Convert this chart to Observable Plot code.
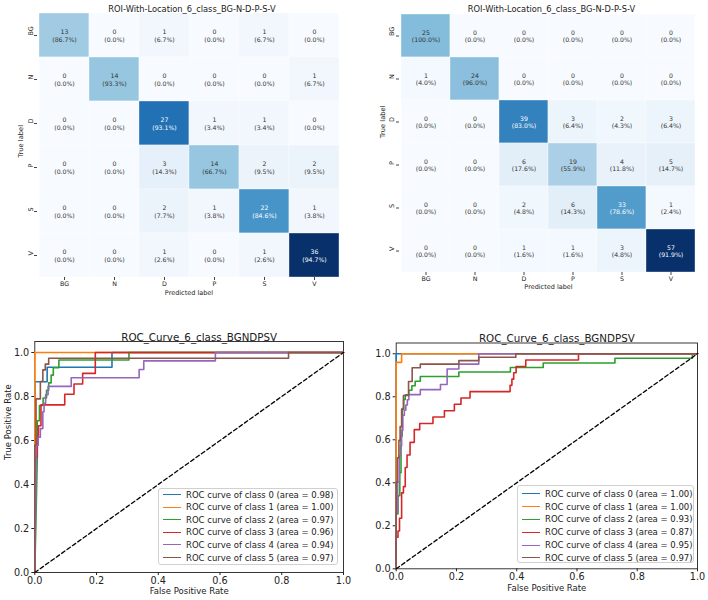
<!DOCTYPE html>
<html><head><meta charset="utf-8">
<script src="https://cdn.jsdelivr.net/npm/d3@7"></script>
<script src="https://cdn.jsdelivr.net/npm/@observablehq/plot@0.6"></script>
<style>
html,body{margin:0;padding:0;background:#fff;}
#root{position:relative;width:708px;height:600px;overflow:hidden;font-family:"DejaVu Sans",sans-serif;}
#root svg{position:absolute;}
.legend{position:absolute;box-sizing:border-box;border:1px solid #d0d0d0;border-radius:3px;background:rgba(255,255,255,0.85);font-family:"DejaVu Sans",sans-serif;color:#222;font-size:8.5px;}
.legend .row{position:absolute;left:0;right:0;height:12px;display:flex;align-items:center;white-space:nowrap;}
.legend .sw{display:inline-block;width:18px;height:0;border-top:1.8px solid;margin:0 5px 0 4px;}
</style></head><body><div id="root"></div>
<script>
// ---------- data ----------
const classLabels = ["BG","N","D","P","S","V"];
const cmLeft  = [[13,0,1,0,1,0],[0,14,0,0,0,1],[0,0,27,1,1,0],[0,0,3,14,2,2],[0,0,2,1,22,1],[0,0,1,0,1,36]];
const cmRight = [[25,0,0,0,0,0],[1,24,0,0,0,0],[0,0,39,3,2,3],[0,0,6,19,4,5],[0,0,2,6,33,1],[0,0,1,1,3,57]];
const cmTitle = "ROI-With-Location_6_class_BG-N-D-P-S-V";
const rocTitle = "ROC_Curve_6_class_BGNDPSV";
const rocColors = ["#1f77b4","#ff7f0e","#2ca02c","#d62728","#9467bd","#8c564b"];
const aucLeft  = ["0.98","1.00","0.97","0.96","0.94","0.97"];
const aucRight = ["1.00","1.00","0.93","0.87","0.95","0.97"];
const rocTicks = [0,0.2,0.4,0.6,0.8,1.0];
const chanceLine = [0,1];

// left ROC curves, [FPR, TPR]
const rocL0 = [[0,0],[0,0.867],[0.04,0.867],[0.04,0.933],[0.25,0.933],[0.25,1],[1,1]];
const rocL1 = [[0,0],[0,1],[1,1]];
const rocL2 = [[0,0],[0.008,0.517],[0.008,0.69],[0.015,0.69],[0.015,0.759],[0.027,0.759],[0.027,0.793],[0.038,0.793],[0.038,0.828],[0.045,0.828],[0.045,0.862],[0.053,0.862],[0.053,0.897],[0.06,0.897],[0.06,0.931],[0.078,0.931],[0.078,0.966],[0.305,0.966],[0.305,1],[1,1]];
const rocL3 = [[0,0],[0,0.524],[0.008,0.524],[0.008,0.619],[0.012,0.619],[0.012,0.667],[0.02,0.667],[0.02,0.762],[0.097,0.762],[0.097,0.81],[0.127,0.81],[0.127,0.857],[0.155,0.857],[0.155,0.905],[0.196,0.905],[0.196,1],[1,1]];
const rocL4 = [[0,0],[0.005,0.577],[0.011,0.577],[0.011,0.615],[0.018,0.615],[0.018,0.654],[0.026,0.654],[0.026,0.731],[0.03,0.731],[0.03,0.769],[0.035,0.769],[0.035,0.808],[0.043,0.808],[0.043,0.846],[0.118,0.846],[0.118,0.885],[0.338,0.885],[0.338,0.923],[0.353,0.923],[0.353,0.962],[0.585,0.962],[0.585,1],[1,1]];
const rocL5 = [[0,0],[0,0.579],[0.004,0.579],[0.004,0.789],[0.018,0.789],[0.018,0.868],[0.026,0.868],[0.026,0.921],[0.034,0.921],[0.034,0.947],[0.045,0.947],[0.045,0.974],[0.822,0.974],[0.822,1],[1,1]];

// right ROC curves, [FPR, TPR]
const rocR0 = [[0,0],[0,1],[1,1]];
const rocR1 = [[0,0],[0,0.96],[0.018,0.96],[0.018,1],[1,1]];
const rocR2 = [[0,0],[0,0.255],[0.006,0.255],[0.006,0.34],[0.012,0.34],[0.012,0.447],[0.016,0.447],[0.016,0.617],[0.02,0.617],[0.02,0.745],[0.025,0.745],[0.025,0.787],[0.03,0.787],[0.03,0.809],[0.042,0.809],[0.042,0.83],[0.052,0.83],[0.052,0.851],[0.063,0.851],[0.063,0.872],[0.08,0.872],[0.08,0.894],[0.208,0.894],[0.208,0.915],[0.379,0.915],[0.379,0.936],[0.488,0.936],[0.488,0.957],[0.726,0.957],[0.726,0.979],[0.983,0.979],[0.983,1],[1,1]];
const rocR3 = [[0,0],[0,0.147],[0.006,0.147],[0.006,0.176],[0.011,0.176],[0.011,0.235],[0.018,0.235],[0.018,0.353],[0.024,0.353],[0.024,0.382],[0.03,0.382],[0.03,0.471],[0.036,0.471],[0.036,0.529],[0.046,0.529],[0.046,0.588],[0.06,0.588],[0.06,0.647],[0.078,0.647],[0.078,0.676],[0.122,0.676],[0.122,0.706],[0.16,0.706],[0.16,0.735],[0.193,0.735],[0.193,0.765],[0.215,0.765],[0.215,0.794],[0.245,0.794],[0.245,0.824],[0.378,0.824],[0.378,0.853],[0.384,0.853],[0.384,0.882],[0.39,0.882],[0.39,0.912],[0.398,0.912],[0.398,0.941],[0.43,0.941],[0.43,0.971],[0.605,0.971],[0.605,1],[1,1]];
const rocR4 = [[0,0],[0,0.262],[0.005,0.262],[0.005,0.405],[0.01,0.405],[0.01,0.524],[0.014,0.524],[0.014,0.571],[0.018,0.571],[0.018,0.643],[0.022,0.643],[0.022,0.714],[0.027,0.714],[0.027,0.738],[0.032,0.738],[0.032,0.762],[0.037,0.762],[0.037,0.786],[0.042,0.786],[0.042,0.81],[0.08,0.81],[0.08,0.833],[0.147,0.833],[0.147,0.857],[0.169,0.857],[0.169,0.929],[0.208,0.929],[0.208,0.952],[0.274,0.952],[0.274,1],[1,1]];
const rocR5 = [[0,0],[0,0.403],[0.004,0.403],[0.004,0.516],[0.009,0.516],[0.009,0.597],[0.013,0.597],[0.013,0.661],[0.018,0.661],[0.018,0.742],[0.024,0.742],[0.024,0.806],[0.041,0.806],[0.041,0.871],[0.053,0.871],[0.053,0.935],[0.08,0.935],[0.08,0.952],[0.208,0.952],[0.208,0.968],[0.274,0.968],[0.274,0.984],[0.397,0.984],[0.397,1],[1,1]];

const rocLeft = [rocL0, rocL1, rocL2, rocL3, rocL4, rocL5];
const rocRight = [rocR0, rocR1, rocR2, rocR3, rocR4, rocR5];

// ---------- drawing ----------
const root = document.getElementById("root");
const txt = d => d;

function confusion(matrix, o) {
  const max = d3.max(matrix.flat());
  const cells = [];
  matrix.forEach((row, i) => {
    const total = d3.sum(row);
    row.forEach((v, j) => cells.push({t: classLabels[i], p: classLabels[j], v, pct: v / total * 100}));
  });
  const label = d => `${d.v}\n(${d.pct.toFixed(1)}%)`;
  const svg = Plot.plot({
    width: 354, height: 300,
    marginLeft: o.ml, marginRight: o.mr, marginTop: 13, marginBottom: o.mb,
    style: {background: "transparent", fontFamily: "DejaVu Sans", color: "#222", overflow: "visible"},
    x: {domain: classLabels, padding: 0},
    y: {domain: classLabels, padding: 0},
    color: {type: "linear", domain: [0, max], scheme: "blues"},
    marks: [
      Plot.cell(cells, {x: "p", y: "t", fill: "v", stroke: "white", strokeWidth: 0.6, strokeOpacity: 0.6}),
      Plot.text(cells.filter(d => d.v / max <= 0.5), {x: "p", y: "t", text: label, fill: "#333", fontSize: 6.2, lineHeight: 1.2}),
      Plot.text(cells.filter(d => d.v / max > 0.5), {x: "p", y: "t", text: label, fill: "white", fontSize: 6.2, lineHeight: 1.2}),
      Plot.axisX({tickSize: 3, tickPadding: 1, fontSize: 6.3, label: null, stroke: "#444"}),
      Plot.axisY({tickSize: 3, tickFormat: () => "", label: null, stroke: "#444"}),
      Plot.text(classLabels, {y: txt, text: txt, frameAnchor: "left", dx: o.tickDx, rotate: -90, fontSize: 6.5, fill: "#222"}),
      Plot.text([cmTitle], {text: txt, frameAnchor: "top", dy: -7, dx: 3, fontSize: 8.3, fill: "#222"}),
      Plot.text(["Predicted label"], {text: txt, frameAnchor: "bottom", dy: o.xlDy, fontSize: 6.5, fill: "#222"}),
      Plot.text(["True label"], {text: txt, frameAnchor: "left", dx: o.ylDx, dy: o.ylDy, rotate: -90, fontSize: 6.7, fill: "#222"})
    ]
  });
  svg.style.left = o.left + "px";
  svg.style.top = o.top + "px";
  root.appendChild(svg);
}

function roc(curves, aucs, o) {
  const data = curves.flatMap((c, k) => c.map(([x, y]) => ({cls: k, x, y})));
  const marks = [
    Plot.frame({stroke: "#222", strokeWidth: 0.9}),
    Plot.axisX({ticks: rocTicks, tickFormat: d3.format(".1f"), tickSize: 3, tickPadding: 1.5, fontSize: 9.7, label: null, stroke: "#222"}),
    Plot.axisY({ticks: rocTicks, tickFormat: d3.format(".1f"), tickSize: 3, tickPadding: 2.5, fontSize: 9.7, label: null, stroke: "#222"}),
    Plot.line(data, {x: "x", y: "y", z: "cls", stroke: "cls", strokeWidth: 1.6}),
    Plot.line(chanceLine, {x: txt, y: txt, stroke: "black", strokeWidth: 1.3, strokeDasharray: "4,2.6"}),
    Plot.text([rocTitle], {text: txt, frameAnchor: "top", dy: -8, dx: 10, fontSize: 10.3, fill: "#222"}),
    Plot.text(["False Positive Rate"], {text: txt, frameAnchor: "bottom", dy: o.xlDy, fontSize: 8.5, fill: "#222"})
  ];
  if (o.ylabel) marks.push(Plot.text([o.ylabel], {text: txt, frameAnchor: "left", dx: o.ylDx, dy: 3, rotate: -90, fontSize: 8.5, fill: "#222"}));
  const svg = Plot.plot({
    width: 354, height: 300,
    marginLeft: o.ml, marginRight: o.mr, marginTop: o.mt, marginBottom: o.mb,
    style: {background: "transparent", fontFamily: "DejaVu Sans", color: "#222", overflow: "visible"},
    x: {domain: [0, 1]},
    y: {domain: [0, 1.05]},
    color: {type: "ordinal", domain: d3.range(6), range: rocColors},
    marks
  });
  svg.style.left = o.left + "px";
  svg.style.top = o.top + "px";
  root.appendChild(svg);

  const lg = document.createElement("div");
  lg.className = "legend";
  Object.assign(lg.style, {left: o.lg.left + "px", top: o.lg.top + "px", width: o.lg.w + "px", height: o.lg.h + "px"});
  aucs.forEach((a, k) => {
    const row = document.createElement("div");
    row.className = "row";
    row.style.top = (o.lg.first + k * o.lg.step - 6) + "px";
    const sw = document.createElement("span");
    sw.className = "sw";
    sw.style.borderTopColor = rocColors[k];
    const t = document.createElement("span");
    t.textContent = `ROC curve of class ${k} (area = ${a})`;
    row.appendChild(sw); row.appendChild(t);
    lg.appendChild(row);
  });
  root.appendChild(lg);
}

confusion(cmLeft,  {left: 0,   top: 0, ml: 37, mr: 14, mb: 23, tickDx: -7, xlDy: 17.5, ylDx: -16.5, ylDy: 12});
confusion(cmRight, {left: 354, top: 0, ml: 45, mr: 11, mb: 28, tickDx: -8, xlDy: 16.5, ylDx: -17, ylDy: -5});
roc(rocLeft, aucLeft, {left: 0, top: 300, ml: 34.3, mr: 11, mt: 41, mb: 28, xlDy: 21, ylabel: "True Positive Rate", ylDx: -27,
  lg: {left: 158, top: 488, w: 180, h: 77, first: 5.5, step: 12.6}});
roc(rocRight, aucRight, {left: 354, top: 300, ml: 41.7, mr: 11, mt: 42.5, mb: 31.7, xlDy: 22,
  lg: {left: 517, top: 485, w: 177, h: 78, first: 7.8, step: 12.8}});
</script>
</body></html>
